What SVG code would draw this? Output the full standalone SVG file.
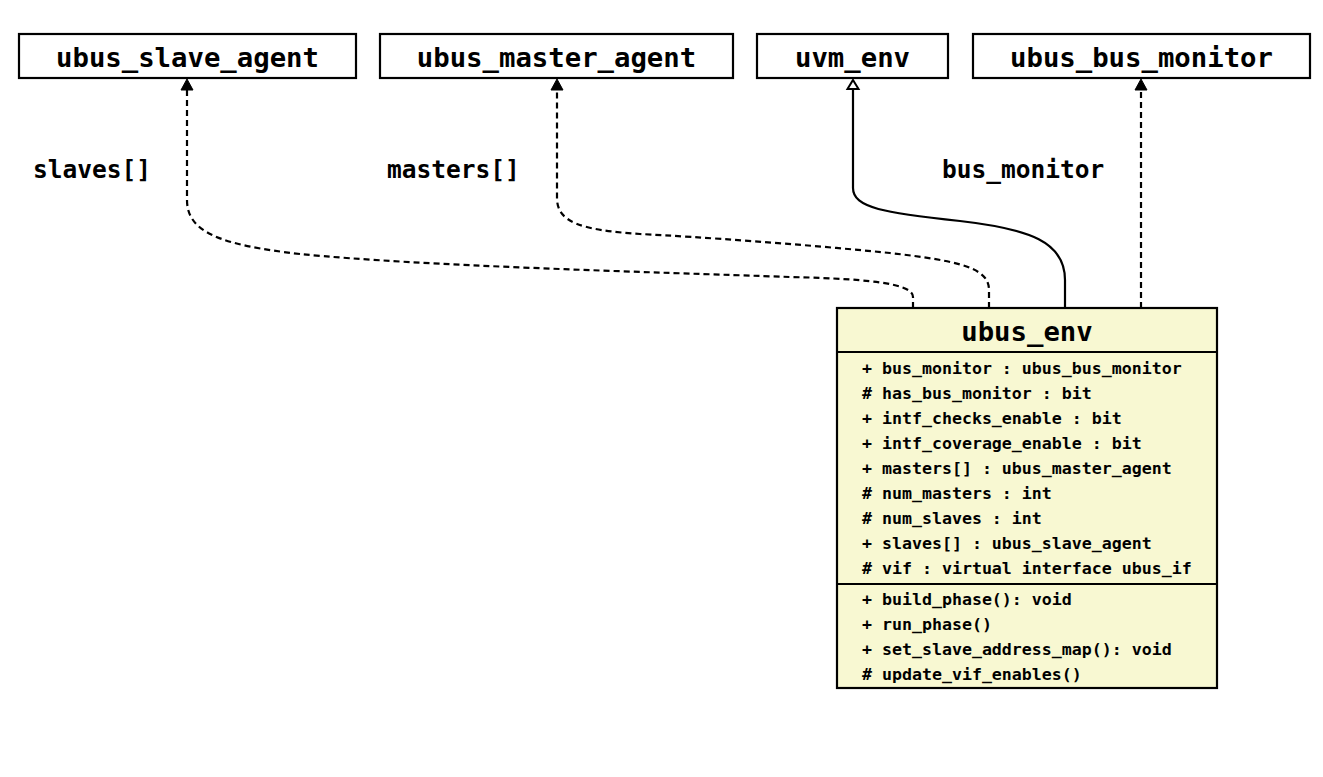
<svg xmlns="http://www.w3.org/2000/svg" width="1323" height="777" viewBox="0 0 1323 777">
<style>
  .box { fill: #ffffff; stroke: #000; stroke-width: 2.2; }
  .cls { fill: #f8f8d2; stroke: #000; stroke-width: 2.2; }
  .div { stroke: #000; stroke-width: 2.2; }
  .lbl { font-family: "DejaVu Sans Mono", "Liberation Mono", monospace; font-weight: bold; font-size: 27.3px; fill: #000; text-anchor: middle; }
  .elbl { font-family: "DejaVu Sans Mono", "Liberation Mono", monospace; font-weight: bold; font-size: 24.5px; fill: #000; }
  .attr { font-family: "DejaVu Sans Mono", "Liberation Mono", monospace; font-weight: bold; font-size: 16.6px; fill: #000; }
  .dash { fill: none; stroke: #000; stroke-width: 2.2; stroke-dasharray: 6 4; }
  .solid { fill: none; stroke: #000; stroke-width: 2.2; }
  .head { fill: #000; stroke: #000; stroke-width: 1; stroke-linejoin: miter; }
  .hhead { fill: #fff; stroke: #000; stroke-width: 2; stroke-linejoin: miter; }
</style>
<rect width="1323" height="777" fill="#fff"/>

<g id="connectors">
  <path class="dash" d="M913,308 V297 C913,285 880,279 790,277 C650,272 420,266 300,254 C220,245 187,232 187,200 V88"/>
  <path class="dash" d="M989,308 V290 C989,268 960,261 890,253 C800,244 700,237 640,234 C580,230 557,222 557,198 V88"/>
  <path class="solid" d="M1065,308 V280 C1065,242 1030,229 960,221 C885,213 853,208 853,188 V88"/>
  <path class="dash" d="M1141,308 V88"/>
  <polygon class="head" points="187,79 193,90 181,90"/>
  <polygon class="head" points="557,79 563,90 551,90"/>
  <polygon class="hhead" points="853,80 858.5,89 847.5,89"/>
  <polygon class="head" points="1141,79 1147,90 1135,90"/>
  <text class="elbl" x="33" y="178">slaves[]</text>
  <text class="elbl" x="387" y="178">masters[]</text>
  <text class="elbl" x="942" y="178">bus_monitor</text>
</g>

<g id="ubus_slave_agent">
  <rect class="box" x="19" y="34" width="337" height="44"/>
  <text class="lbl" x="187.5" y="66.5">ubus_slave_agent</text>
</g>
<g id="ubus_master_agent">
  <rect class="box" x="380" y="34" width="353" height="44"/>
  <text class="lbl" x="556.5" y="66.5">ubus_master_agent</text>
</g>
<g id="uvm_env">
  <rect class="box" x="757" y="34" width="191" height="44"/>
  <text class="lbl" x="852.5" y="66.5">uvm_env</text>
</g>
<g id="ubus_bus_monitor">
  <rect class="box" x="973" y="34" width="337" height="44"/>
  <text class="lbl" x="1141.5" y="66.5">ubus_bus_monitor</text>
</g>

<g id="ubus_env">
  <rect class="cls" x="837" y="308" width="380" height="380"/>
  <line class="div" x1="837" y1="352" x2="1217" y2="352"/>
  <line class="div" x1="837" y1="584" x2="1217" y2="584"/>
  <text class="lbl" x="1027" y="341">ubus_env</text>
  <text class="attr" x="862" y="374">+ bus_monitor : ubus_bus_monitor</text>
  <text class="attr" x="862" y="399"># has_bus_monitor : bit</text>
  <text class="attr" x="862" y="424">+ intf_checks_enable : bit</text>
  <text class="attr" x="862" y="449">+ intf_coverage_enable : bit</text>
  <text class="attr" x="862" y="474">+ masters[] : ubus_master_agent</text>
  <text class="attr" x="862" y="499"># num_masters : int</text>
  <text class="attr" x="862" y="524"># num_slaves : int</text>
  <text class="attr" x="862" y="549">+ slaves[] : ubus_slave_agent</text>
  <text class="attr" x="862" y="574"># vif : virtual interface ubus_if</text>
  <text class="attr" x="862" y="605">+ build_phase(): void</text>
  <text class="attr" x="862" y="630">+ run_phase()</text>
  <text class="attr" x="862" y="655">+ set_slave_address_map(): void</text>
  <text class="attr" x="862" y="680"># update_vif_enables()</text>
</g>
</svg>
